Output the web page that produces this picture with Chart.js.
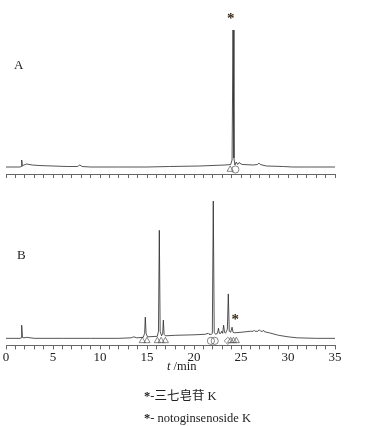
<!DOCTYPE html>
<html lang="zh">
<head>
<meta charset="UTF-8">
<title>HPLC</title>
<script src="https://cdn.jsdelivr.net/npm/chart.js@4.4.0/dist/chart.umd.min.js"></script>
<style>
  body { margin: 0; background: #fff; }
  .wrap { position: relative; width: 365px; height: 426px; font-family: "Liberation Serif", "Noto Sans CJK SC", serif; color: #222; }
  .wrap canvas { position: absolute; left: 0; }
  .txt { position: absolute; white-space: nowrap; font-size: 12.5px; line-height: 1; }
</style>
</head>
<body>
<div class="wrap">
  <canvas id="chartA" width="365" height="180" style="top:0"></canvas>
  <canvas id="chartB" width="365" height="177" style="top:190px"></canvas>
  <div class="txt" style="left:14px;top:58px;font-size:13px">A</div>
  <div class="txt" style="left:17px;top:248px;font-size:13px">B</div>
  <div class="txt" style="left:167px;top:360px"><i>t</i> /min</div>
  <div class="txt" style="left:144px;top:390px"><b>*</b>-三七皂苷 K</div>
  <div class="txt" style="left:144px;top:412px"><b>*</b>- notoginsenoside K</div>
</div>

<script>
// trace A (reference standard), t in min, signal in arbitrary units
const timeA = [0, 1.5, 1.6, 1.67, 1.75, 1.9, 2.2, 2.8, 3.5, 5, 6.5, 7.6, 7.85, 8.1, 9, 12, 15, 17.4, 20.6, 23.3, 23.9, 24.05, 24.15, 24.25, 24.35, 24.5, 24.65, 24.8, 25.0, 25.2, 26.3, 26.75, 26.9, 27.05, 27.7, 29.5, 30.5, 32, 35];
const signalA = [7, 7, 7.5, 14, 8, 9, 10, 9, 8.5, 8, 7.5, 7.5, 9, 7.5, 7, 7, 7, 7.5, 8, 9, 9.5, 14, 144, 16, 9, 12, 9.5, 11.5, 10, 9.5, 9, 9.5, 11, 9.5, 8, 7.5, 7, 7, 7];

// trace B (sample)
const timeB = [0, 1.5, 1.6, 1.67, 1.75, 1.9, 2.2, 3, 6, 9, 12, 13.3, 13.6, 13.9, 14.6, 14.75, 14.82, 14.9, 15.05, 16.1, 16.22, 16.31, 16.4, 16.55, 16.67, 16.74, 16.82, 16.95, 18, 20, 21.2, 21.5, 21.6, 21.7, 21.8, 21.95, 22.05, 22.15, 22.3, 22.5, 22.6, 22.7, 22.85, 22.95, 23.05, 23.15, 23.25, 23.35, 23.55, 23.65, 23.75, 23.9, 24.05, 24.15, 24.3, 25, 26, 26.3, 26.4, 26.5, 26.8, 26.95, 27.1, 27.3, 27.4, 27.5, 28, 29, 30, 31, 33, 35];
const signalB = [7, 7, 7.5, 20, 8, 7.5, 8, 7, 7, 7, 7, 7.5, 8.5, 7.5, 8, 12, 28, 12, 8.5, 9, 14, 114, 14, 9.5, 12, 25, 11, 9.5, 10, 10.5, 11, 12, 11, 11.5, 10.5, 12, 143, 13, 11, 12, 17, 12, 12, 14, 12, 20, 13, 12, 16, 51, 14, 13, 18, 13, 12.5, 13, 14, 14, 15, 14, 14, 15.5, 14, 14, 15, 13.5, 12.5, 10, 8.5, 7.5, 7, 7];

// peak markers at the baseline
const markTimeA = [23.85, 24.4];
const markStyleA = ['triangle', 'circle'];
const markTimeB = [14.5, 15.0, 16.1, 16.5, 16.95, 21.8, 22.2, 23.6, 23.9, 24.2, 24.5];
const markStyleB = ['triangle', 'triangle', 'triangle', 'triangle', 'triangle', 'circle', 'circle', 'rectRot', 'triangle', 'triangle', 'triangle'];
const markLevel = 4.5;

// asterisk over notoginsenoside K
const starA = [23.9, 158];
const starB = [24.4, 28];

const tickLabels = [0, 5, 10, 15, 20, 25, 30, 35];

function points(ts, ys) {
  return ts.map((t, i) => ({ x: t, y: ys[i] }));
}

const starPlugin = {
  id: 'star',
  afterDatasetsDraw(chart, args, opts) {
    const { ctx, scales } = chart;
    ctx.save();
    ctx.font = 'bold 15px "Liberation Serif"';
    ctx.fillStyle = '#3a2a14';
    ctx.textAlign = 'center';
    ctx.textBaseline = 'middle';
    ctx.fillText('*', scales.x.getPixelForValue(opts.at[0]), scales.y.getPixelForValue(opts.at[1]) + 3);
    ctx.restore();
  }
};

function drawchart(canvas, cfg) {
  return new Chart(canvas, {
    type: 'line',
    data: {
      datasets: [{
        data: points(cfg.t, cfg.s),
        borderColor: '#2a2a2a',
        borderWidth: 0.8,
        pointRadius: 0,
        tension: 0
      }, {
        data: cfg.marks.map(t => ({ x: t, y: markLevel })),
        showLine: false,
        pointStyle: cfg.styles,
        pointRadius: 3.6,
        borderColor: '#555',
        borderWidth: 0.7,
        backgroundColor: 'rgba(0,0,0,0)'
      }]
    },
    options: {
      responsive: false,
      animation: false,
      events: [],
      layout: { padding: cfg.padding },
      plugins: { legend: { display: false }, tooltip: { enabled: false }, star: { at: cfg.star } },
      scales: {
        x: {
          type: 'linear',
          min: 0,
          max: 35,
          border: { color: '#666', width: 1 },
          grid: { drawOnChartArea: false, drawTicks: true, tickLength: 4, color: '#666' },
          ticks: {
            display: cfg.labels,
            stepSize: 1,
            autoSkip: false,
            maxRotation: 0,
            padding: 0,
            color: '#222',
            font: { family: '"Liberation Serif"', size: 13 },
            callback: v => tickLabels.includes(v) ? String(v) : ''
          }
        },
        y: { display: false, min: 0, max: cfg.ymax }
      }
    },
    plugins: [starPlugin]
  });
}

drawchart(document.getElementById('chartA'), {
  t: timeA, s: signalA, marks: markTimeA, styles: markStyleA, star: starA,
  labels: false, ymax: 154, padding: { left: 6, right: 30, top: 20, bottom: 2 }
});

drawchart(document.getElementById('chartB'), {
  t: timeB, s: signalB, marks: markTimeB, styles: markStyleB, star: starB,
  labels: true, ymax: 149, padding: { left: 6, right: 30, top: 5, bottom: 2 }
});
</script>
</body>
</html>
